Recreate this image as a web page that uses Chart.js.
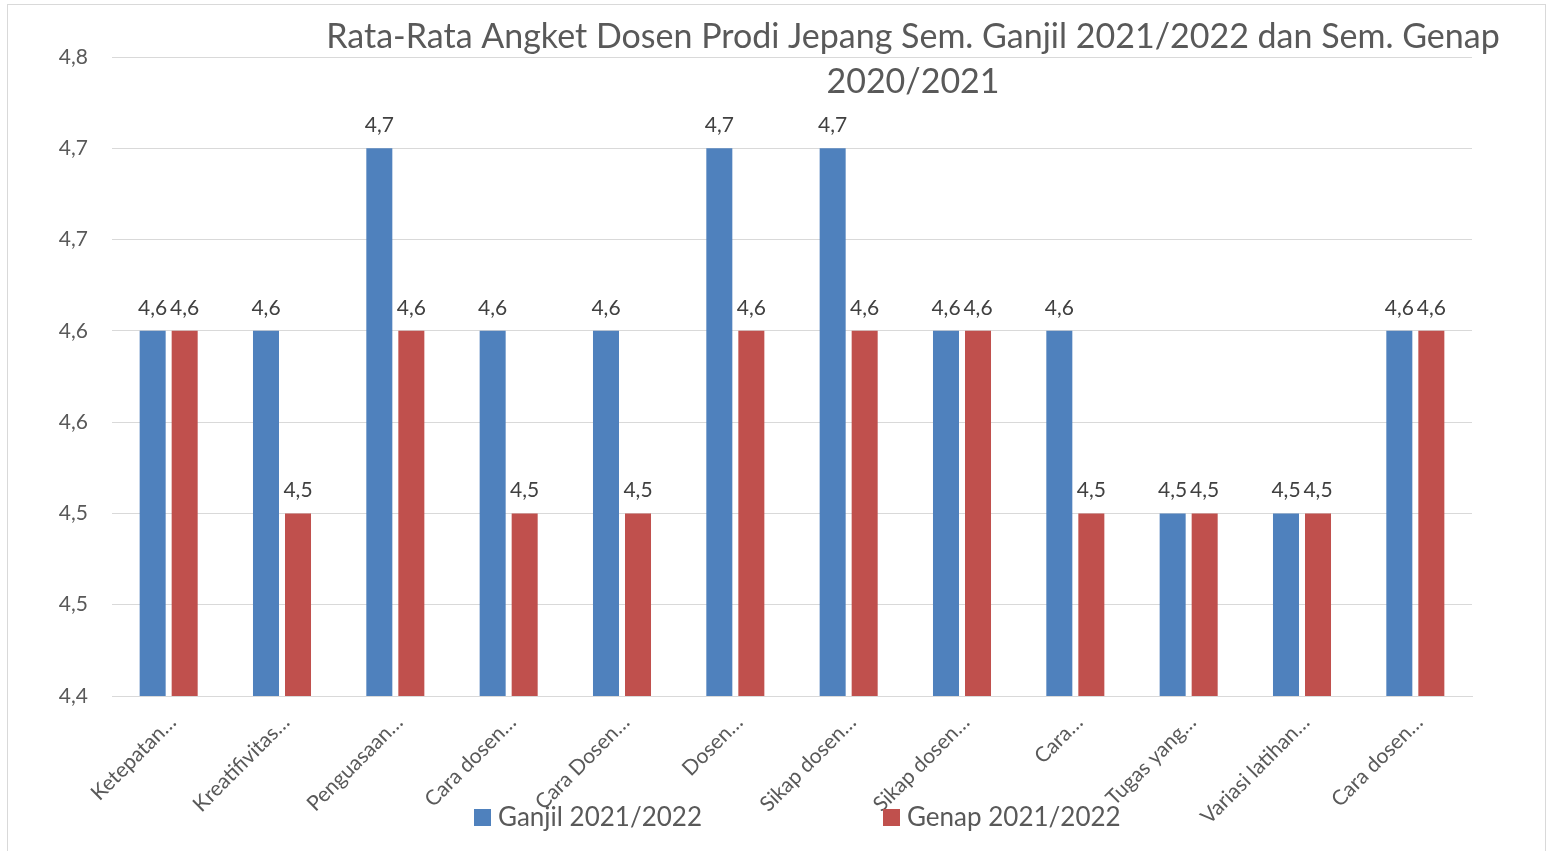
<!DOCTYPE html>
<html>
<head>
<meta charset="utf-8">
<title>Rata-Rata Angket Dosen</title>
<script src="https://cdn.jsdelivr.net/npm/chart.js@4.4.0/dist/chart.umd.min.js"></script>
<style>
  html, body { margin: 0; padding: 0; background: #fff; }
  #wrap { width: 1549px; height: 851px; position: relative; }
</style>
</head>
<body>
<div id="wrap"><canvas id="chart" width="1549" height="851"></canvas></div>
<script>
// data
const categories = ['Ketepatan…', 'Kreatifivitas…', 'Penguasaan…', 'Cara dosen…', 'Cara Dosen…', 'Dosen…',
    'Sikap dosen…', 'Sikap dosen…', 'Cara…', 'Tugas yang…', 'Variasi latihan…', 'Cara dosen…'];
const ganjil = [4.6, 4.6, 4.7, 4.6, 4.6, 4.7, 4.7, 4.6, 4.6, 4.5, 4.5, 4.6];
const genap = [4.6, 4.5, 4.6, 4.5, 4.5, 4.6, 4.6, 4.6, 4.5, 4.5, 4.5, 4.6];
const seriesNames = ['Ganjil 2021/2022', 'Genap 2021/2022'];
const yMin = 4.4, yMax = 4.75, yStep = 0.05;
const titleLines = ['Rata-Rata Angket Dosen Prodi Jepang Sem. Ganjil 2021/2022 dan Sem. Genap', '2020/2021'];

const colors = ['#4F81BD', '#C0504D'];
const textColor = '#595959';
const fontFamily = "Lato, 'Open Sans', sans-serif";

// excel shows one decimal with comma
function fmt(v) {
    const tenth = Math.round(Math.round(v * 20) / 2) / 10;
    return tenth.toFixed(1).replace('.', ',');
}

// frame, title, legend and value labels
const decorations = {
    id: 'decorations',
    beforeDraw(chart) {
        const ctx = chart.ctx;
        ctx.save();
        ctx.strokeStyle = '#D9D9D9';
        ctx.lineWidth = 1;
        ctx.strokeRect(7.5, 4.5, 1538, 900);
        ctx.restore();
    },
    afterDatasetsDraw(chart) {
        const ctx = chart.ctx;
        ctx.save();
        ctx.font = '21px ' + fontFamily;
        ctx.fillStyle = '#404040';
        ctx.textAlign = 'center';
        ctx.textBaseline = 'alphabetic';
        chart.data.datasets.forEach((ds, i) => {
            chart.getDatasetMeta(i).data.forEach((bar, j) => {
                ctx.fillText(fmt(ds.data[j]), bar.x, bar.y - 16);
            });
        });
        ctx.restore();
    },
    afterDraw(chart) {
        const ctx = chart.ctx;
        ctx.save();
        // title
        ctx.font = '34px ' + fontFamily;
        ctx.fillStyle = textColor;
        ctx.textAlign = 'center';
        ctx.textBaseline = 'middle';
        ctx.fillText(titleLines[0], 913, 37);
        ctx.fillText(titleLines[1], 913, 82);

        // legend
        const items = [{ x: 474 }, { x: 883 }];
        ctx.font = '26px ' + fontFamily;
        ctx.textAlign = 'left';
        items.forEach((it, i) => {
            ctx.fillStyle = colors[i];
            ctx.fillRect(it.x, 809, 17, 17);
            ctx.fillStyle = textColor;
            ctx.fillText(seriesNames[i], it.x + 24, 818);
        });
        ctx.restore();
    }
};

new Chart(document.getElementById('chart'), {
    type: 'bar',
    data: {
        labels: categories,
        datasets: [
            { label: seriesNames[0], data: ganjil, backgroundColor: colors[0] },
            { label: seriesNames[1], data: genap, backgroundColor: colors[1] }
        ]
    },
    options: {
        responsive: false,
        animation: false,
        devicePixelRatio: 1,
        categoryPercentage: 0.565,
        barPercentage: 0.8125,
        layout: { padding: { top: 57, right: 77, bottom: 0, left: 0 } },
        plugins: {
            legend: { display: false },
            title: { display: false },
            tooltip: { enabled: false }
        },
        scales: {
            x: {
                grid: { display: false },
                border: { color: '#D9D9D9', width: 1 },
                ticks: {
                    color: textColor,
                    font: { family: fontFamily, size: 21 },
                    minRotation: 45,
                    maxRotation: 45,
                    autoSkip: false,
                    labelOffset: 4,
                    padding: 6
                },
                afterFit(scale) { scale.height = 155; }
            },
            y: {
                min: yMin,
                max: yMax,
                border: { display: false },
                grid: { color: '#D9D9D9', lineWidth: 1, drawTicks: false },
                ticks: {
                    stepSize: yStep,
                    color: textColor,
                    font: { family: fontFamily, size: 21 },
                    padding: 24,
                    callback: v => fmt(v)
                },
                afterFit(scale) { scale.width = 112; }
            }
        }
    },
    plugins: [decorations]
});
</script>
</body>
</html>
